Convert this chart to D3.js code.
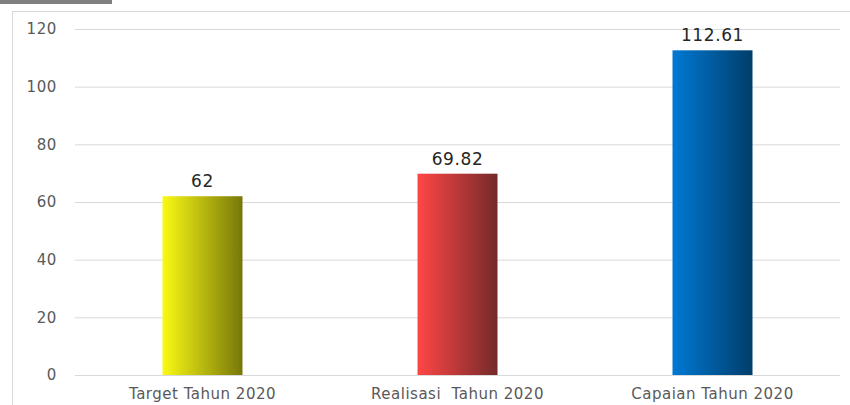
<!DOCTYPE html>
<html><head><meta charset="utf-8">
<script src="https://cdn.jsdelivr.net/npm/d3@7"></script>
<style>html,body{margin:0;padding:0;background:#fff;overflow:hidden}</style>
</head><body>
<svg id="c" width="850" height="405"></svg>
<script>
const categories = ["Target Tahun 2020", "Realisasi  Tahun 2020", "Capaian Tahun 2020"];
const values = [62, 69.82, 112.61];
const valueLabels = ["62", "69.82", "112.61"];
const yTicks = [0, 20, 40, 60, 80, 100, 120];
const gradStops = [["#fafa14", "#77770a"], ["#ff4646", "#742a2a"], ["#0079d4", "#003d6a"]];

(function () {
const svg = d3.select("#c");
const font = "DejaVu Sans, sans-serif";

svg.append("rect").attr("x", 0).attr("y", 0).attr("width", 112).attr("height", 4).attr("fill", "#7f7f7f");
svg.append("rect").attr("x", 12.5).attr("y", 11.5).attr("width", 850).attr("height", 420)
  .attr("fill", "#fff").attr("stroke", "#d9d9d9").attr("stroke-width", 1);

const mLeft = 75, mRight = 840, mTop = 29, mBottom = 375;
const x = d3.scaleBand().domain(categories).range([mLeft, mRight]).paddingInner(0.6863).paddingOuter(0.6863 / 2);
const y = d3.scaleLinear().domain([0, 120]).range([mBottom, mTop]);

const defs = svg.append("defs");
gradStops.forEach((g, i) => {
  const lg = defs.append("linearGradient").attr("id", "g" + i).attr("x1", "0%").attr("x2", "100%").attr("y1", "0%").attr("y2", "0%");
  lg.append("stop").attr("offset", "0%").attr("stop-color", g[0]);
  lg.append("stop").attr("offset", "100%").attr("stop-color", g[1]);
});

const yAxis = d3.axisLeft(y).tickValues(yTicks).tickSize(-(mRight - mLeft)).tickPadding(18);
const ga = svg.append("g").attr("transform", `translate(${mLeft},0)`).call(yAxis);
ga.select(".domain").remove();
ga.selectAll(".tick line").attr("stroke", "#d9d9d9").attr("stroke-width", 1);
ga.selectAll(".tick text").attr("fill", "#595959").style("font-family", font).style("font-size", "15px")
  .style("letter-spacing", "0.6px");

svg.append("g").selectAll("rect").data(values).join("rect")
  .attr("x", (d, i) => x(categories[i]))
  .attr("width", x.bandwidth())
  .attr("y", d => y(d))
  .attr("height", d => y(0) - y(d))
  .attr("fill", (d, i) => `url(#g${i})`);

svg.append("g").selectAll("text").data(values).join("text")
  .attr("x", (d, i) => x(categories[i]) + x.bandwidth() / 2)
  .attr("y", d => y(d) - 9)
  .attr("text-anchor", "middle")
  .attr("fill", "#262626")
  .style("font-family", font).style("font-size", "17px").style("letter-spacing", "0.6px")
  .text((d, i) => valueLabels[i]);

const xAxis = d3.axisBottom(x).tickSize(0).tickPadding(13);
const gx = svg.append("g").attr("transform", `translate(0,${mBottom})`).call(xAxis);
gx.select(".domain").remove();
gx.selectAll(".tick text").attr("fill", "#595959").style("font-family", font).style("font-size", "15px")
  .style("letter-spacing", "0.5px").style("white-space", "pre");
})();
</script>
</body></html>
